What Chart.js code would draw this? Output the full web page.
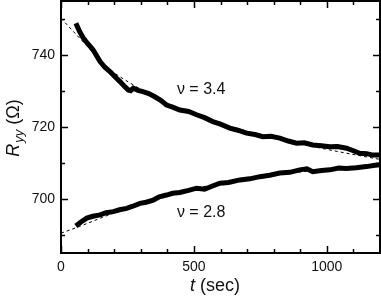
<!DOCTYPE html>
<html>
<head>
<meta charset="utf-8">
<script src="https://cdn.jsdelivr.net/npm/chart.js@4/dist/chart.umd.min.js"></script>
<style>
  html, body { margin: 0; padding: 0; background: #fff; }
  #wrap { width: 381px; height: 300px; }
</style>
</head>
<body>
<div id="wrap"><canvas id="rChart" width="381" height="300"></canvas></div>
<script>
// nu = 3.4 trace (t in sec, R_yy in ohm)
const t34 = [56, 70, 84, 100, 121, 147, 165, 184, 205, 222, 240, 253, 262, 272, 290, 308, 330, 353, 375, 397, 420, 447, 480, 510, 540, 571, 600, 635, 665, 698, 730, 759, 790, 823, 855, 886, 915, 947, 980, 1011, 1040, 1074, 1100, 1124, 1150, 1173, 1199];
const r34 = [748.8, 746.5, 744.7, 743.2, 741.4, 738.2, 736.6, 735.4, 733.8, 732.6, 731.2, 730.3, 730.1, 730.8, 730.2, 729.8, 729.3, 728.4, 727.4, 726.1, 725.5, 724.7, 724.3, 723.4, 722.6, 721.5, 720.8, 719.7, 719.1, 718.3, 717.9, 717.3, 717.4, 716.9, 716.1, 715.5, 715.6, 715.0, 714.8, 714.5, 714.6, 714.1, 713.4, 712.7, 712.6, 712.2, 712.2];

// nu = 2.8 trace
const t28 = [56, 75, 97, 120, 147, 170, 197, 220, 247, 270, 297, 320, 347, 370, 397, 420, 447, 480, 510, 540, 570, 598, 630, 673, 710, 748, 785, 823, 860, 898, 925, 947, 980, 1011, 1045, 1074, 1110, 1149, 1175, 1199];
const r28 = [692.5, 693.6, 694.7, 695.2, 695.6, 696.2, 696.5, 697.0, 697.4, 698.0, 698.8, 699.1, 699.7, 700.6, 701.1, 701.6, 701.8, 702.4, 703.0, 702.7, 703.6, 704.4, 704.6, 705.3, 705.6, 706.2, 706.6, 707.2, 707.4, 708.1, 708.4, 707.6, 707.9, 708.1, 708.6, 708.5, 708.7, 709.0, 709.3, 709.5];

// dashed fits
const fitT = [0, 70, 180, 272, 400, 600, 800, 1000, 1200];
const fit34 = [750.2, 744.7, 736.3, 731.7, 726.5, 721.0, 717.0, 713.8, 711.0];
const fit28 = [690.5, 692.4, 695.6, 698.2, 701.2, 704.3, 706.6, 708.3, 709.8];

const xTickLabels = [0, 500, 1000];
const yTickLabels = [700, 720, 740];

const labels = [
  { text: '\u03bd = 3.4', t: 436, r: 730.3 },
  { text: '\u03bd = 2.8', t: 436, r: 696.1 }
];

const pts = (xs, ys) => xs.map((x, i) => ({ x: x, y: ys[i] }));

// frame, inward ticks, axis titles and curve labels
const framePlugin = {
  id: 'frame',
  afterDraw(chart) {
    const ctx = chart.ctx;
    const a = chart.chartArea;
    const xs = chart.scales.x;
    const ys = chart.scales.y;
    ctx.save();
    ctx.strokeStyle = '#000';
    ctx.lineWidth = 2;
    ctx.strokeRect(a.left, a.top, a.right - a.left, a.bottom - a.top);

    ctx.lineWidth = 1.5;
    ctx.beginPath();
    for (let v = 0; v <= 1200; v += 100) {
      const px = Math.round(xs.getPixelForValue(v)) + 0.5;
      const len = v % 500 === 0 ? 7 : 4;
      ctx.moveTo(px, a.bottom); ctx.lineTo(px, a.bottom - len);
      ctx.moveTo(px, a.top); ctx.lineTo(px, a.top + len);
    }
    for (let v = 690; v <= 750; v += 10) {
      const py = Math.round(ys.getPixelForValue(v)) + 0.5;
      const len = v % 20 === 0 ? 7 : 4;
      ctx.moveTo(a.left, py); ctx.lineTo(a.left + len, py);
      ctx.moveTo(a.right, py); ctx.lineTo(a.right - len, py);
    }
    ctx.stroke();

    ctx.fillStyle = '#111';
    ctx.textBaseline = 'middle';
    ctx.font = '16px "Liberation Sans", Arial, sans-serif';
    labels.forEach(l => {
      ctx.textAlign = 'left';
      ctx.fillText(l.text, xs.getPixelForValue(l.t), ys.getPixelForValue(l.r));
    });

    // x title: t (sec)
    const big = '18px "Liberation Sans", Arial, sans-serif';
    const bigI = 'italic 18px "Liberation Sans", Arial, sans-serif';
    ctx.font = bigI;
    const wT = ctx.measureText('t').width;
    ctx.font = big;
    const wS = ctx.measureText(' (sec)').width;
    let x0 = 215 - (wT + wS) / 2;
    ctx.textAlign = 'left';
    ctx.font = bigI; ctx.fillText('t', x0, 286);
    ctx.font = big; ctx.fillText(' (sec)', x0 + wT, 286);

    // y title: R_yy (Ω)
    ctx.translate(14, 128);
    ctx.rotate(-Math.PI / 2);
    const subI = 'italic 13px "Liberation Sans", Arial, sans-serif';
    ctx.font = bigI; const wR = ctx.measureText('R').width;
    ctx.font = subI; const wY = ctx.measureText('yy').width;
    ctx.font = big; const wO = ctx.measureText(' (\u03a9)').width;
    x0 = -(wR + wY + wO + 1) / 2;
    ctx.font = bigI; ctx.fillText('R', x0, 0);
    ctx.font = subI; ctx.fillText('yy', x0 + wR + 1, 5);
    ctx.font = big; ctx.fillText(' (\u03a9)', x0 + wR + wY + 1, 0);
    ctx.restore();
  }
};

const ctx = document.getElementById('rChart').getContext('2d');
new Chart(ctx, {
  type: 'line',
  data: {
    datasets: [
      { data: pts(fitT, fit34), borderColor: '#000', borderWidth: 1, borderDash: [3, 3], pointRadius: 0, tension: 0.4 },
      { data: pts(fitT, fit28), borderColor: '#000', borderWidth: 1, borderDash: [3, 3], pointRadius: 0, tension: 0.4 },
      { data: pts(t34, r34), borderColor: '#000', borderWidth: 5, pointRadius: 0, tension: 0 },
      { data: pts(t28, r28), borderColor: '#000', borderWidth: 5, pointRadius: 0, tension: 0 }
    ]
  },
  options: {
    responsive: false,
    animation: false,
    layout: { padding: { left: 0, right: 1, top: 1, bottom: 0 } },
    plugins: { legend: { display: false }, tooltip: { enabled: false } },
    scales: {
      x: {
        type: 'linear', min: 0, max: 1200,
        grid: { display: false, drawTicks: false }, border: { display: false },
        afterBuildTicks: s => { s.ticks = xTickLabels.map(v => ({ value: v })); },
        afterFit: s => { s.height = 47; s.paddingLeft = 0; s.paddingRight = 0; },
        ticks: { color: '#111', padding: 6, maxRotation: 0, callback: v => String(v), font: { family: '"Liberation Sans", Arial', size: 14 } }
      },
      y: {
        min: 685, max: 755,
        grid: { display: false, drawTicks: false }, border: { display: false },
        afterBuildTicks: s => { s.ticks = yTickLabels.map(v => ({ value: v })); },
        afterFit: s => { s.width = 61; s.paddingTop = 0; s.paddingBottom = 0; },
        ticks: { color: '#111', padding: 6, callback: v => String(v), font: { family: '"Liberation Sans", Arial', size: 14 } }
      }
    }
  },
  plugins: [framePlugin]
});
</script>
</body>
</html>
